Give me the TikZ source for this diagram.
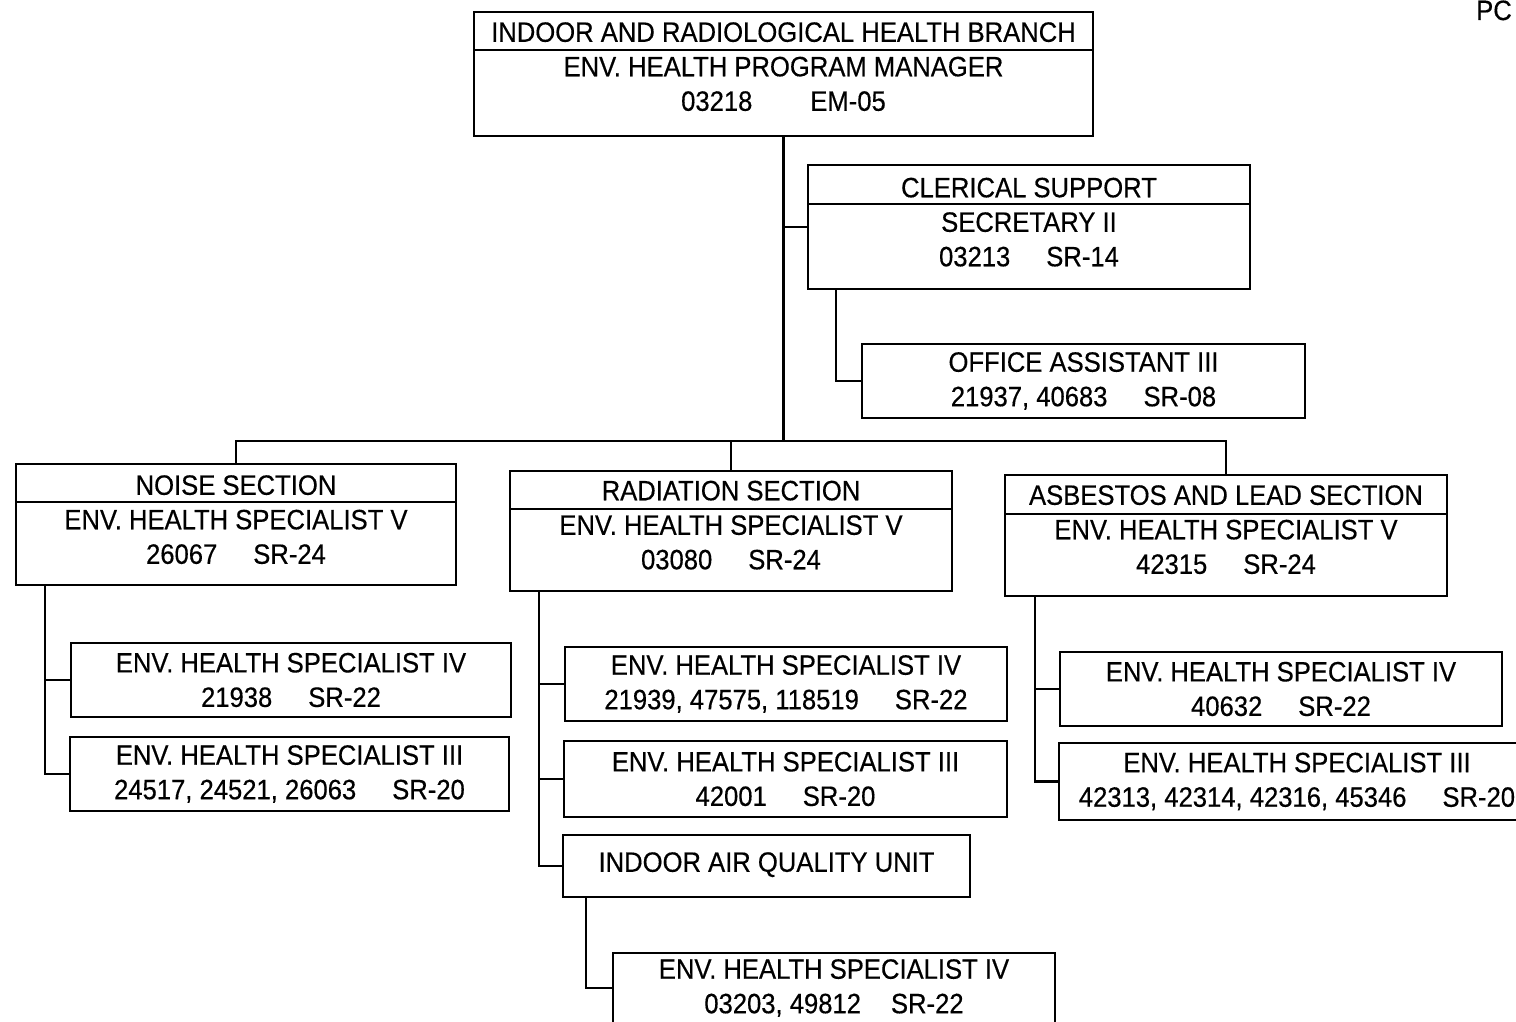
\documentclass[tikz,border=0pt]{standalone}
\usepackage{fontspec}
\setmainfont{Liberation Sans}[FakeStretch=0.915,FakeBold=0.4]
\newcommand\lowpad[1]{\rule[-#1]{0pt}{#1}}
\newcommand\gp{\hspace{36pt}}
\begin{document}
\begin{tikzpicture}[x=1pt,y=-1pt,
  box/.style={draw, line width=2.2pt, inner sep=0pt, outer sep=0pt, align=center,
    font=\fontsize{28}{34.5}\selectfont},
  conn/.style={line width=2.2pt}]
\useasboundingbox (0,0) rectangle (1516,1022);
\clip (0,0) rectangle (1516,1022);
\fill[white] (0,0) rectangle (1516,1022);

% top
\node[box, minimum width=619pt, minimum height=124pt] (top) at (783.5,74)
  {INDOOR AND RADIOLOGICAL HEALTH BRANCH\\ENV. HEALTH PROGRAM MANAGER\\03218\hspace{58pt}EM-05\lowpad{15pt}};
\draw[conn] (top.west |- 0,50) -- (top.east |- 0,50);

% clerical
\node[box, minimum width=442pt, minimum height=124pt] (cler) at (1029,227)
  {CLERICAL SUPPORT\\SECRETARY II\\03213\gp SR-14\lowpad{10pt}};
\draw[conn] (cler.west |- 0,204) -- (cler.east |- 0,204);

\node[box, minimum width=443pt, minimum height=74pt] (oa) at (1083.5,381)
  {OFFICE ASSISTANT III\\21937, 40683\gp SR-08};

% sections
\node[box, minimum width=440pt, minimum height=121pt] (noise) at (236,524.5)
  {NOISE SECTION\\ENV. HEALTH SPECIALIST V\\26067\gp SR-24\lowpad{10pt}};
\draw[conn] (noise.west |- 0,502) -- (noise.east |- 0,502);

\node[box, minimum width=442pt, minimum height=120pt] (rad) at (731,531)
  {RADIATION SECTION\\ENV. HEALTH SPECIALIST V\\03080\gp SR-24\lowpad{12pt}};
\draw[conn] (rad.west |- 0,509) -- (rad.east |- 0,509);

\node[box, minimum width=442pt, minimum height=121pt] (asb) at (1226,535.5)
  {ASBESTOS AND LEAD SECTION\\ENV. HEALTH SPECIALIST V\\42315\gp SR-24\lowpad{12pt}};
\draw[conn] (asb.west |- 0,514) -- (asb.east |- 0,514);

% noise children
\node[box, minimum width=440pt, minimum height=74pt] (nIV) at (291,680)
  {ENV. HEALTH SPECIALIST IV\\21938\gp SR-22};
\node[box, minimum width=439pt, minimum height=74pt] (nIII) at (289.5,774)
  {ENV. HEALTH SPECIALIST III\\24517, 24521, 26063\gp SR-20};

% radiation children
\node[box, minimum width=442pt, minimum height=74pt] (rIV) at (786,684)
  {ENV. HEALTH SPECIALIST IV\\21939, 47575, 118519\gp SR-22};
\node[box, minimum width=443pt, minimum height=76pt] (rIII) at (785.5,779)
  {ENV. HEALTH SPECIALIST III\\42001\gp SR-20};
\node[box, minimum width=407pt, minimum height=62pt] (iaq) at (766.5,866)
  {INDOOR AIR QUALITY UNIT\lowpad{8pt}};
\node[box, minimum width=442pt, minimum height=70pt] (iaqIV) at (834,988)
  {ENV. HEALTH SPECIALIST IV\\03203, 49812\hspace{30pt}SR-22};

% asbestos children
\node[box, minimum width=442pt, minimum height=74pt] (aIV) at (1281,689)
  {ENV. HEALTH SPECIALIST IV\\40632\gp SR-22};
\node[box, minimum width=476pt, minimum height=77pt] (aIII) at (1297,781.5)
  {ENV. HEALTH SPECIALIST III\\42313, 42314, 42316, 45346\gp SR-20};

% page mark
\node[anchor=base west, inner sep=0pt, font=\fontsize{28}{34}\selectfont] (pc) at (1476,20) {PC};

% connectors
\coordinate (bus) at (783.5,441);
\draw[conn] (top.south) -- (bus);
\draw[conn] (top.south |- cler.west) -- (cler.west);
\draw[conn] (cler.south -| 836,0) |- (oa.west);
\draw[conn] (noise.north) |- (bus) -- (bus -| asb.north) -- (asb.north);
\draw[conn] (rad.north) -- (rad.north |- bus);

\draw[conn] (noise.south -| 45,0) |- (nIII.west);
\draw[conn] (nIV.west) -| (45,700);

\draw[conn] (rad.south -| 539,0) |- (iaq.west);
\draw[conn] (rIV.west) -| (539,700);
\draw[conn] (rIII.west) -| (539,800);

\draw[conn] (iaq.south -| 586,0) |- (iaqIV.west);

\draw[conn] (asb.south -| 1035,0) |- (aIII.west);
\draw[conn] (aIV.west) -| (1035,700);
\end{tikzpicture}
\end{document}
